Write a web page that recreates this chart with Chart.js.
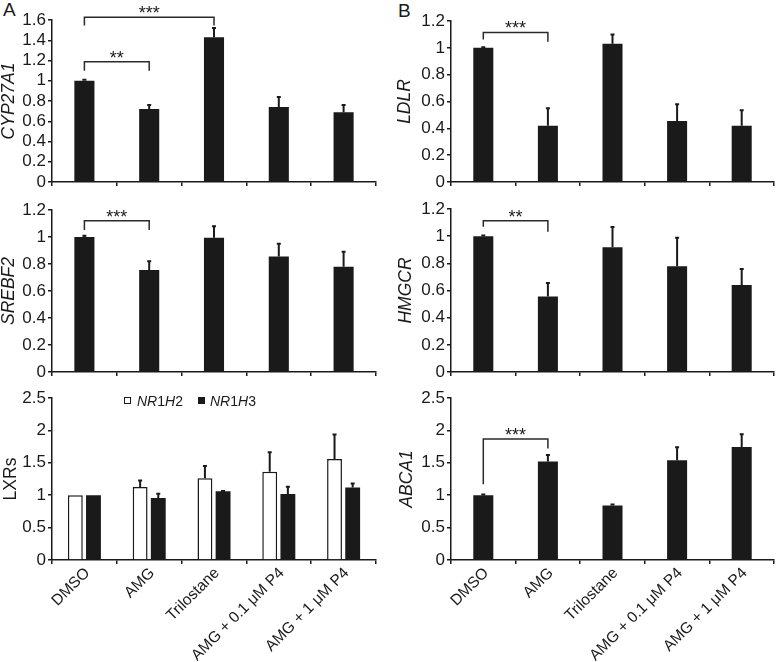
<!DOCTYPE html>
<html><head><meta charset="utf-8">
<script src="https://cdn.jsdelivr.net/npm/chart.js@4.4.1/dist/chart.umd.min.js"></script>
<style>
html,body{margin:0;padding:0;background:#fff;}
body{width:776px;height:662px;position:relative;overflow:hidden;font-family:'Liberation Sans',Arial,sans-serif;color:#1a1a1a;}
canvas{position:absolute;}
.lab{position:absolute;font-size:19px;line-height:1;}
.leg{position:absolute;font-size:14px;line-height:1;white-space:nowrap;}
.sw{position:absolute;width:7px;height:7px;box-sizing:border-box;border:1.5px solid #1a1a1a;}
</style></head>
<body>
<div class="lab" style="left:3px;top:0px">A</div>
<div class="lab" style="left:398px;top:1px">B</div>
<canvas id="a1" width="380" height="195" style="left:0;top:0"></canvas>
<canvas id="b1" width="396" height="195" style="left:380px;top:0"></canvas>
<canvas id="a2" width="380" height="190" style="left:0;top:195px"></canvas>
<canvas id="b2" width="396" height="190" style="left:380px;top:195px"></canvas>
<canvas id="a3" width="380" height="277" style="left:0;top:385px"></canvas>
<canvas id="b3" width="396" height="277" style="left:380px;top:385px"></canvas>
<div class="sw" style="left:124px;top:397px;background:#fff"></div>
<div class="leg" style="left:137px;top:394px"><i>NR</i>1<i>H</i>2</div>
<div class="sw" style="left:198px;top:397px;background:#1a1a1a"></div>
<div class="leg" style="left:210px;top:394px"><i>NR</i>1<i>H</i>3</div>
<script>
const categories = ['DMSO', 'AMG', 'Trilostane', 'AMG + 0.1 \u03bcM P4', 'AMG + 1 \u03bcM P4'];

const cyp27a1    = [1.00, 0.72, 1.43, 0.74, 0.69];
const cyp27a1Err = [0.01, 0.04, 0.09, 0.10, 0.07];
const ldlr       = [1.00, 0.42, 1.03, 0.455, 0.42];
const ldlrErr    = [0.005, 0.13, 0.07, 0.125, 0.115];
const srebf2     = [1.00, 0.755, 0.995, 0.855, 0.78];
const srebf2Err  = [0.01, 0.065, 0.085, 0.095, 0.11];
const hmgcr      = [1.00, 0.555, 0.918, 0.778, 0.64];
const hmgcrErr   = [0.005, 0.10, 0.15, 0.21, 0.118];
const nr1h2      = [1.00, 1.127, 1.26, 1.363, 1.558];
const nr1h2Err   = [0, 0.10, 0.19, 0.30, 0.38];
const nr1h3      = [1.00, 0.957, 1.06, 1.02, 1.12];
const nr1h3Err   = [0, 0.065, 0.005, 0.11, 0.06];
const abca1      = [1.00, 1.52, 0.84, 1.54, 1.745];
const abca1Err   = [0.01, 0.10, 0.015, 0.20, 0.195];

// significance brackets: from/to category index, level and end heights (data units)
const cypBrackets   = [{from:0,to:1,level:1.188,ya:1.10,yb:1.10,text:'**'},{from:0,to:2,level:1.627,ya:1.545,yb:1.545,text:'***'}];
const ldlrBrackets  = [{from:0,to:1,level:1.115,ya:1.063,yb:1.045,text:'***'}];
const srebBrackets  = [{from:0,to:1,level:1.12,ya:1.052,yb:1.052,text:'***'}];
const hmgBrackets   = [{from:0,to:1,level:1.114,ya:1.07,yb:1.033,text:'**'}];
const abcaBrackets  = [{from:0,to:1,level:1.867,ya:1.17,yb:1.72,text:'***'}];

const INK = '#1a1a1a';
const FONT = "'Liberation Sans', Arial, sans-serif";

const annot = {
  id: 'annot',
  afterDatasetsDraw(chart, args, o) {
    const ctx = chart.ctx, ys = chart.scales.y;
    chart.data.datasets.forEach((ds, di) => {
      const meta = chart.getDatasetMeta(di);
      meta.data.forEach((el, i) => {
        const v = ds.data[i], e = ds.err[i];
        if (!e) return;
        const y0 = ys.getPixelForValue(v), y1 = ys.getPixelForValue(v + e);
        ctx.save();
        ctx.strokeStyle = INK; ctx.lineWidth = 2;
        ctx.beginPath();
        ctx.moveTo(el.x, y0); ctx.lineTo(el.x, y1);
        ctx.moveTo(el.x - 2, y1); ctx.lineTo(el.x + 2, y1);
        ctx.stroke();
        ctx.restore();
      });
    });
    (o.brackets || []).forEach(b => {
      const m = chart.getDatasetMeta(0);
      const xa = m.data[b.from].x, xb = m.data[b.to].x;
      const yl = ys.getPixelForValue(b.level);
      ctx.save();
      ctx.strokeStyle = '#2a2a2a'; ctx.lineWidth = 1.5;
      ctx.beginPath();
      ctx.moveTo(xa, ys.getPixelForValue(b.ya));
      ctx.lineTo(xa, yl); ctx.lineTo(xb, yl);
      ctx.lineTo(xb, ys.getPixelForValue(b.yb));
      ctx.stroke();
      ctx.fillStyle = INK;
      ctx.font = '18px ' + FONT;
      ctx.textAlign = 'center'; ctx.textBaseline = 'alphabetic';
      ctx.fillText(b.text, (xa + xb) / 2, yl + 2);
      ctx.restore();
    });
  }
};

function makeChart(id, cfg) {
  const datasets = cfg.series.map(s => ({
    data: s.data, err: s.err,
    backgroundColor: s.fill,
    borderColor: INK,
    borderWidth: s.fill === '#ffffff' ? 1.5 : 0,
    barPercentage: cfg.series.length > 1 ? 0.82 : 0.31,
    categoryPercentage: cfg.series.length > 1 ? 0.56 : 1.0
  }));
  return new Chart(document.getElementById(id), {
    type: 'bar',
    data: { labels: categories, datasets },
    plugins: [annot],
    options: {
      responsive: false, animation: false, devicePixelRatio: 1,
      layout: { padding: { top: cfg.padTop, right: cfg.padRight, left: 0, bottom: 0 } },
      plugins: { legend: { display: false }, tooltip: { enabled: false }, annot: { brackets: cfg.brackets } },
      scales: {
        x: {
          grid: { display: true, drawOnChartArea: false, drawTicks: true, tickLength: 4, offset: true, color: INK, lineWidth: 1.5 },
          border: { display: true, color: INK, width: 1.5 },
          ticks: { display: cfg.showLabels, autoSkip: false, maxRotation: 45, minRotation: 45, padding: 0, labelOffset: 3,
                   color: INK, font: { family: FONT, size: 15.5 } },
          afterFit: s => { s.height = cfg.xHeight; }
        },
        y: {
          min: 0, max: cfg.max,
          grid: { display: true, drawOnChartArea: false, drawTicks: true, tickLength: 4, color: INK, lineWidth: 1.5 },
          border: { display: true, color: INK, width: 1.5 },
          ticks: { stepSize: cfg.step, autoSkip: false, padding: 2, color: INK, font: { family: FONT, size: 17 },
                   callback: v => String(parseFloat(v.toFixed(2))) },
          title: { display: true, text: cfg.title, color: INK, padding: { top: cfg.titlePad, bottom: 0 },
                   font: { family: FONT, size: 17.5, style: cfg.italic ? 'italic' : 'normal', lineHeight: 1 } },
          afterFit: s => { s.width = cfg.yWidth; }
        }
      }
    }
  });
}

const BLACK = '#1a1a1a', WHITE = '#ffffff';
makeChart('a1', { series: [{data: cyp27a1, err: cyp27a1Err, fill: BLACK}], max: 1.6, step: 0.2, title: 'CYP27A1', italic: true,
  titlePad: 0, yWidth: 52, padTop: 20, padRight: 4, xHeight: 13, showLabels: false, brackets: cypBrackets });
makeChart('b1', { series: [{data: ldlr, err: ldlrErr, fill: BLACK}], max: 1.2, step: 0.2, title: 'LDLR', italic: true,
  titlePad: 16.5, yWidth: 71, padTop: 21, padRight: 2, xHeight: 13, showLabels: false, brackets: ldlrBrackets });
makeChart('a2', { series: [{data: srebf2, err: srebf2Err, fill: BLACK}], max: 1.2, step: 0.2, title: 'SREBF2', italic: true,
  titlePad: 0, yWidth: 52, padTop: 15, padRight: 4, xHeight: 13, showLabels: false, brackets: srebBrackets });
makeChart('b2', { series: [{data: hmgcr, err: hmgcrErr, fill: BLACK}], max: 1.2, step: 0.2, title: 'HMGCR', italic: true,
  titlePad: 17, yWidth: 71, padTop: 14, padRight: 2, xHeight: 13, showLabels: false, brackets: hmgBrackets });
makeChart('a3', { series: [{data: nr1h2, err: nr1h2Err, fill: WHITE}, {data: nr1h3, err: nr1h3Err, fill: BLACK}], max: 2.5, step: 0.5,
  title: 'LXRs', italic: false, titlePad: 2.5, yWidth: 52, padTop: 13, padRight: 4, xHeight: 102, showLabels: true, brackets: [] });
makeChart('b3', { series: [{data: abca1, err: abca1Err, fill: BLACK}], max: 2.5, step: 0.5, title: 'ABCA1', italic: true,
  titlePad: 18, yWidth: 71, padTop: 13, padRight: 2, xHeight: 102, showLabels: true, brackets: abcaBrackets });
</script>
</body></html>
